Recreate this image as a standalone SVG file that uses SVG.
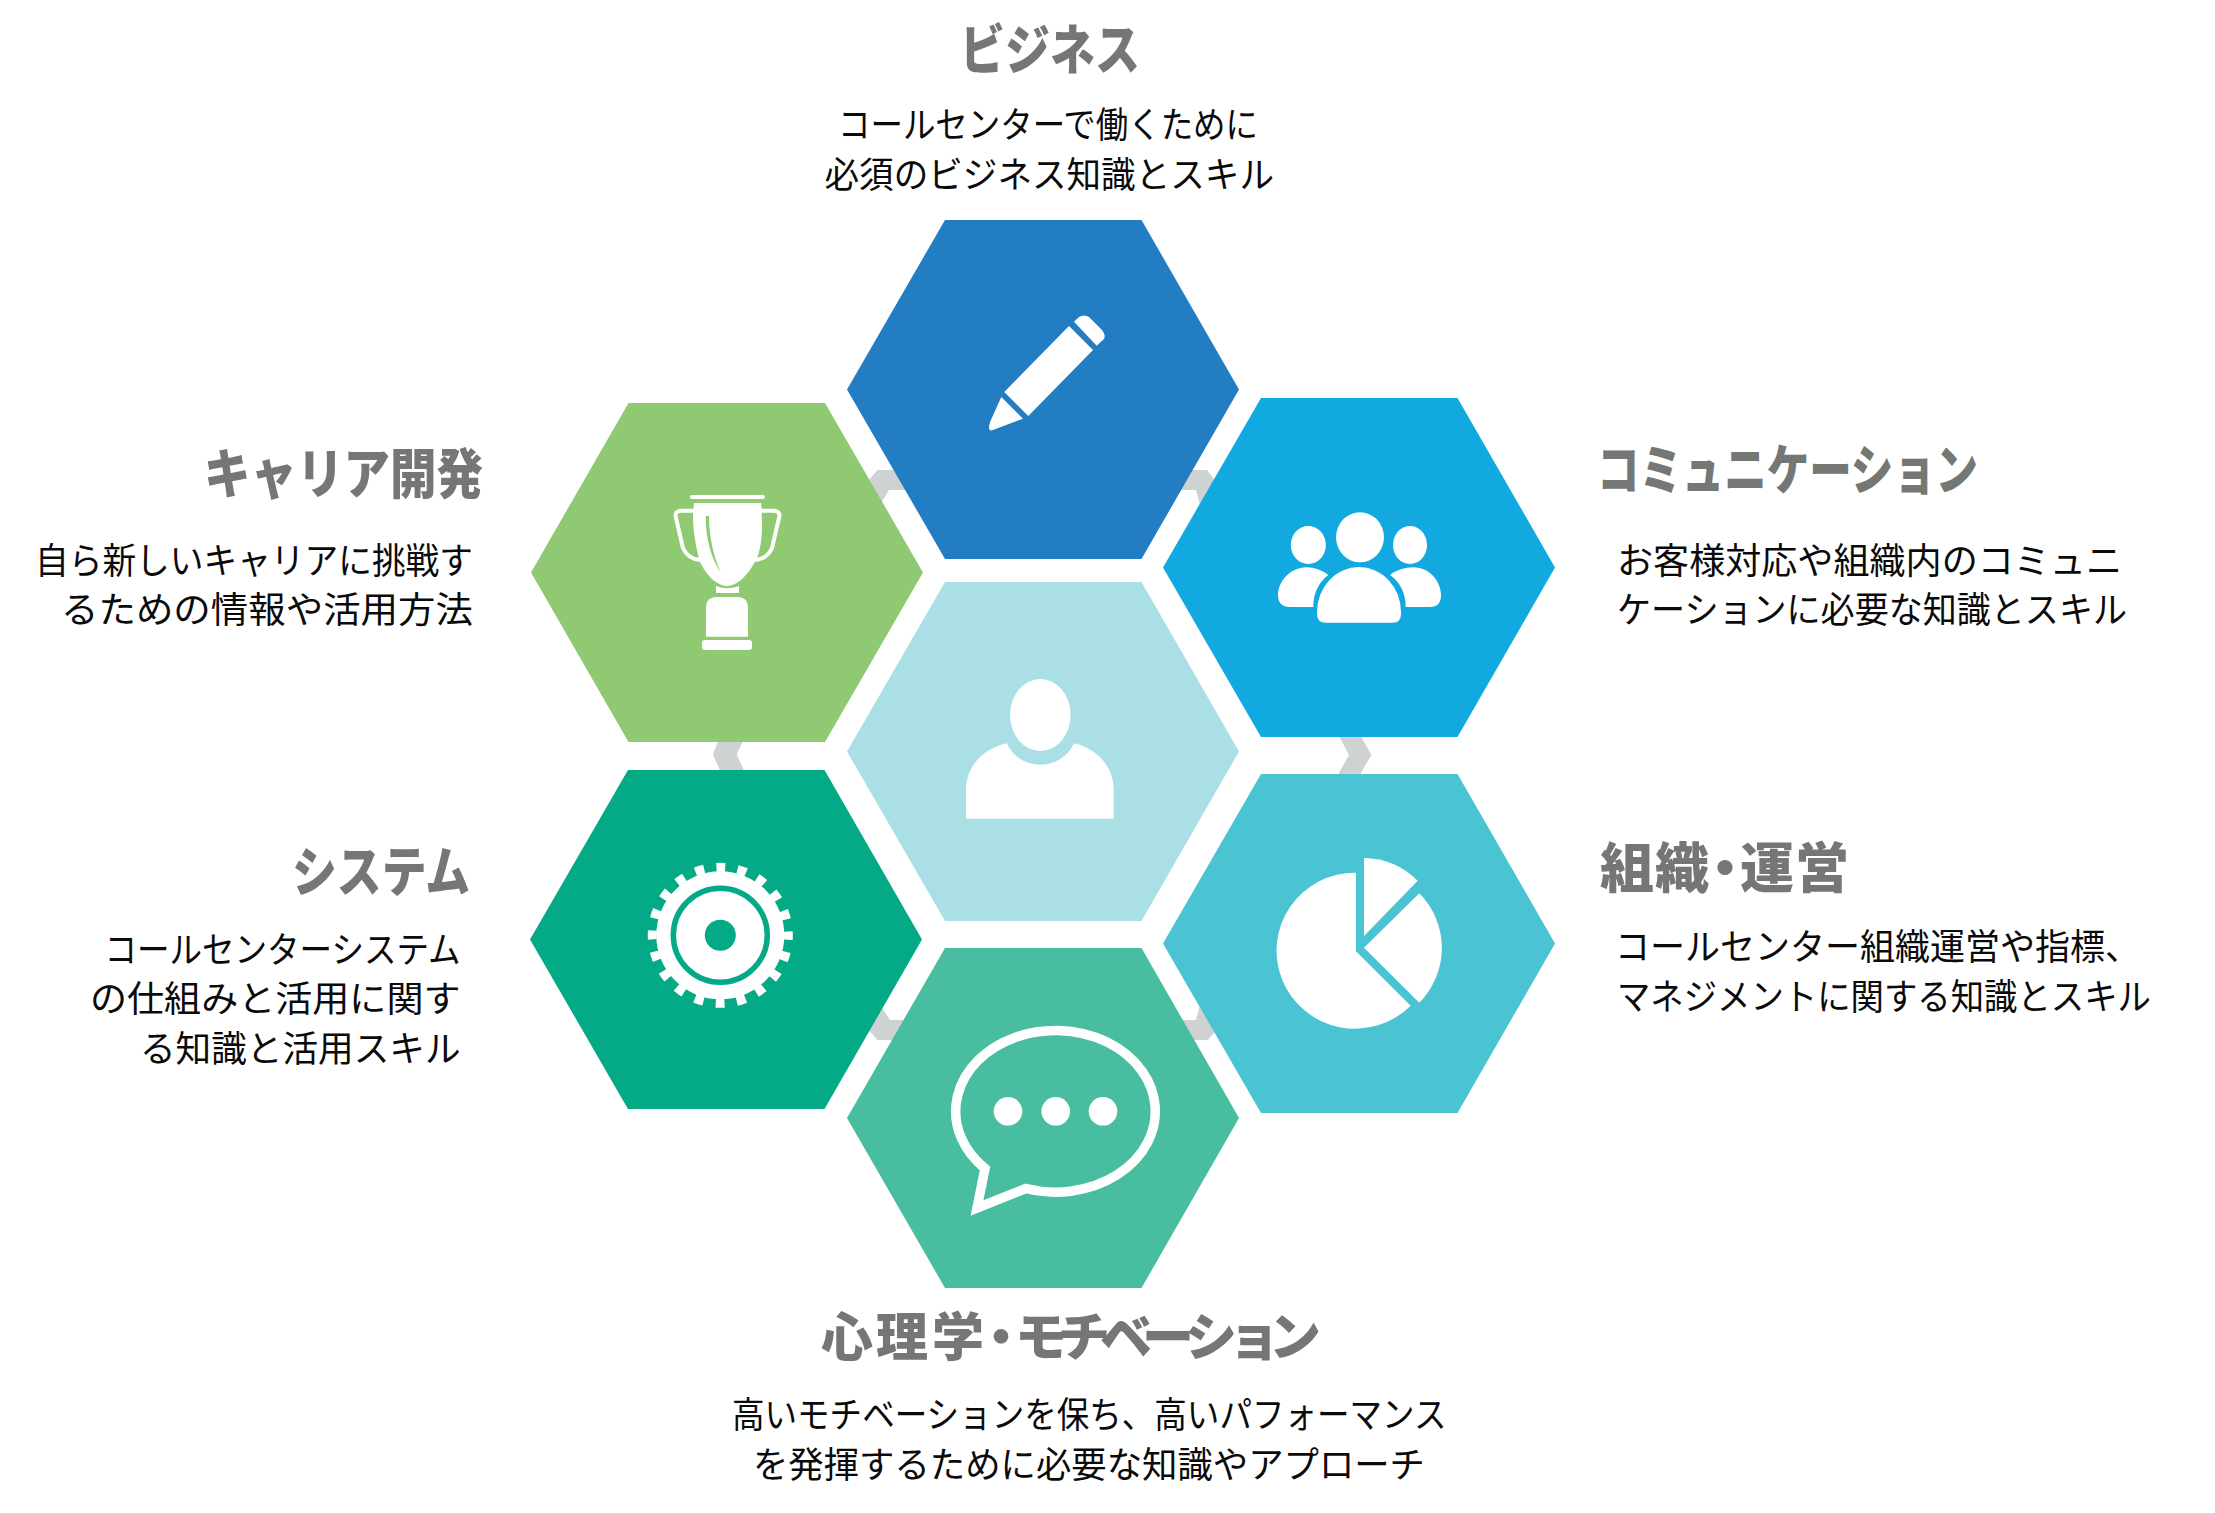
<svg xmlns="http://www.w3.org/2000/svg" width="2215" height="1513" viewBox="0 0 2215 1513">
<style>
text{font-family:"Noto Sans CJK JP","Noto Sans",sans-serif}
.h{font-size:54px;font-weight:900;fill:#757775}
.b{font-size:36px;font-weight:400;fill:#0a0a0a}
.w{fill:#fff}
.c{fill:#CFD2D3}
</style>
<rect width="2215" height="1513" fill="#fff"/>
<g id="connectors">
<polygon class="c" points="877.5,470 960,470 960,490 889,490 880,505 860,490"/>
<polygon class="c" points="1120,470 1207,470 1222,490 1200,505 1196,490 1120,490"/>
<polygon class="c" points="720.5,735 746,735 736.7,754.3 746,775 722,775 712.8,754.3"/>
<polygon class="c" points="1335.7,730 1357.7,730 1371.4,755 1357,780 1335,780 1349,755"/>
<polygon class="c" points="880,1005 890,1020 960,1020 960,1040 877.5,1040 860,1020"/>
<polygon class="c" points="1120,1020 1196,1020 1200,1005 1225,1020 1208,1040 1120,1040"/>
</g>
<g id="node-center">
<polygon fill="#ABDFE6" points="945,582 1141.5,582 1239,751.5 1141.5,921 945,921 847,751.5"/>
<ellipse class="w" cx="1040.3" cy="715" rx="30.3" ry="36"/>
<path class="w" d="M966,818.7 L966,790 C966,765 985,748 1006.7,743.3 C1013,757 1026,764.7 1040.3,764.7 C1054,764.7 1068,757 1074,743.3 C1095,748 1113.7,765 1113.7,790 L1113.7,818.7Z"/>
</g>
<g id="node-business">
<polygon fill="#237DC2" points="945,220 1141.5,220 1239,389.5 1141.5,559 945,559 847,389.5"/>
<polygon class="w" points="1069,326 1093,350 1028.3,416 1004.3,392"/>
<path class="w" d="M1074,321.7 L1079,317 Q1084,314 1089,317 L1102,330 Q1106,335 1104,339 L1096.7,345.7Z"/>
<path class="w" d="M1001.3,397 L1023,418.7 L993,430 Q989,431.5 989,428 Q989,425 990.5,421Z"/>
<text class="h" x="960" y="70" textLength="180" lengthAdjust="spacingAndGlyphs">ビジネス</text>
<text class="b" x="838" y="138" textLength="420" lengthAdjust="spacingAndGlyphs">コールセンターで働くために</text>
<text class="b" x="824.5" y="188" textLength="449.5" lengthAdjust="spacingAndGlyphs">必須のビジネス知識とスキル</text>
</g>
<g id="node-communication">
<polygon fill="#12A9E0" points="1261,398 1457.5,398 1555,567.5 1457.5,737 1261,737 1163,567.5"/>
<ellipse class="w" cx="1360" cy="537.3" rx="24" ry="25"/>
<ellipse class="w" cx="1308.3" cy="545" rx="17.5" ry="19"/>
<ellipse class="w" cx="1410" cy="545" rx="17" ry="19"/>
<path class="w" d="M1317,612 A42,45 0 0 1 1401,612 L1401,614 Q1401,622.7 1392,622.7 L1326,622.7 Q1317,622.7 1317,614Z"/>
<path class="w" d="M1328.3,575 Q1318,567.3 1306.7,567.3 C1290,567.3 1278,582 1278,595 Q1278,607 1290,607 L1313.3,607 C1313.3,592 1320,581 1328.3,575Z"/>
<path class="w" d="M1390,575 Q1400,567.3 1413.3,567.3 C1430,567.3 1441,582 1441,595 Q1441,607 1430,607 L1405.7,607 C1405.7,592 1399,581 1390,575Z"/>
<text class="h" x="1597" y="490" textLength="381" lengthAdjust="spacingAndGlyphs">コミュニケーション</text>
<text class="b" x="1617" y="574" textLength="505" lengthAdjust="spacingAndGlyphs">お客様対応や組織内のコミュニ</text>
<text class="b" x="1617" y="623" textLength="510" lengthAdjust="spacingAndGlyphs">ケーションに必要な知識とスキル</text>
</g>
<g id="node-organization">
<polygon fill="#4AC3D3" points="1261,774 1457.5,774 1555,943.5 1457.5,1113 1261,1113 1163,943.5"/>
<path class="w" d="M1356,951.3 L1356,872.7 A78.5,78 0 1 0 1410.7,1005.7Z"/>
<path class="w" d="M1364,936 L1364,858 A78,78 0 0 1 1417.7,880.7Z"/>
<path class="w" d="M1364,947.7 L1419.3,893.3 A77.6,77.6 0 0 1 1419.3,1002.7Z"/>
<text class="h" x="1600 1655 1698 1740 1795" y="888">組織・運営</text>
<text class="b" x="1615" y="960" textLength="525" lengthAdjust="spacingAndGlyphs">コールセンター組織運営や指標、</text>
<text class="b" x="1617" y="1010" textLength="534" lengthAdjust="spacingAndGlyphs">マネジメントに関する知識とスキル</text>
</g>
<g id="node-motivation">
<polygon fill="#49BD9F" points="945,948 1141.5,948 1239,1118 1141.5,1288 945,1288 847,1118"/>
<path d="M1026,1188.5 A99.8,80.8 0 1 0 985,1168.5 L977,1208Z" fill="none" stroke="#fff" stroke-width="9.5"/>
<circle class="w" cx="1008" cy="1111.3" r="14.3"/>
<circle class="w" cx="1055.7" cy="1111.3" r="14.3"/>
<circle class="w" cx="1103" cy="1111.3" r="14.3"/>
<text class="h" x="821 876 932 975 1015 1058 1100 1142 1185 1228 1269" y="1356" style="font-size:52px">心理学・モチベーション</text>
<text class="b" x="732" y="1428" textLength="714.5" lengthAdjust="spacingAndGlyphs">高いモチベーションを保ち、高いパフォーマンス</text>
<text class="b" x="753" y="1478" textLength="672" lengthAdjust="spacingAndGlyphs">を発揮するために必要な知識やアプローチ</text>
</g>
<g id="node-system">
<polygon fill="#03AA85" points="628,770 824.5,770 922,939.5 824.5,1109 628,1109 530,939.5"/>
<circle class="w" cx="720.3" cy="935.3" r="64"/>
<circle cx="720.3" cy="935.3" r="68" fill="none" stroke="#fff" stroke-width="9" stroke-dasharray="9 12.363" stroke-dashoffset="4.5"/>
<circle cx="720.3" cy="935.3" r="47" fill="none" stroke="#03AA85" stroke-width="5.5"/>
<circle cx="720.3" cy="935.3" r="15.5" fill="#03AA85"/>
<text class="h" x="292" y="892" textLength="178" lengthAdjust="spacingAndGlyphs">システム</text>
<text class="b" x="104.5" y="963" textLength="356" lengthAdjust="spacingAndGlyphs">コールセンターシステム</text>
<text class="b" x="90" y="1012" textLength="370.5" lengthAdjust="spacingAndGlyphs">の仕組みと活用に関す</text>
<text class="b" x="140" y="1062" textLength="320.5" lengthAdjust="spacingAndGlyphs">る知識と活用スキル</text>
</g>
<g id="node-career">
<polygon fill="#8FCA72" points="628.5,403 825,403 923,572.5 825,742 628.5,742 531,572.5"/>
<rect class="w" x="690" y="495" width="75" height="4" rx="2"/>
<path class="w" d="M694,503 L761.3,503 L762,525 C762,545 758,558 755,561.7 C748,575 737,586 727.3,586 C717,586 706,575 700,561.7 C695,545 692.7,525 693,515Z"/>
<path fill="#8FCA72" d="M705.7,516 L709,516 C709,535 713,555 720.5,572 C712,560 705.5,540 705.7,516Z"/>
<path d="M694,510.7 L682,510.7 Q674,510.7 676,518 L683,548 Q688,559 700,560 M761,510.7 L773,510.7 Q781,510.7 779,518 L772,548 Q767,559 755,560" fill="none" stroke="#fff" stroke-width="4"/>
<path class="w" d="M716,586 Q727,590.5 739,586 L739,593 L716,593Z"/>
<path class="w" d="M706,636.7 L706,608 Q706,597 717,597 L737,597 Q748,597 748,608 L748,636.7Z"/>
<rect class="w" x="702" y="640" width="50" height="10" rx="3"/>
<text class="h" x="204" y="494" textLength="279" lengthAdjust="spacingAndGlyphs">キャリア開発</text>
<text class="b" x="35" y="574" textLength="438" lengthAdjust="spacingAndGlyphs">自ら新しいキャリアに挑戦す</text>
<text class="b" x="61" y="623" textLength="412" lengthAdjust="spacingAndGlyphs">るための情報や活用方法</text>
</g>
</svg>
